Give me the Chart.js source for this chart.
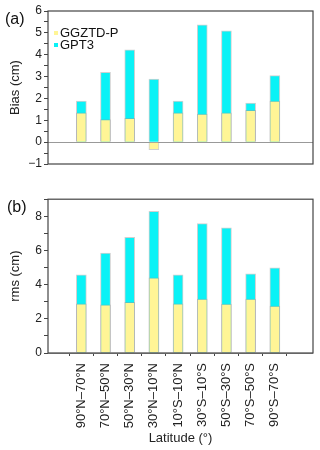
<!DOCTYPE html>
<html>
<head>
<meta charset="utf-8">
<script src="https://cdn.jsdelivr.net/npm/chart.js@4"></script>
<style>
  html, body { margin: 0; padding: 0; background: #fff; }
  #wrap { position: relative; width: 320px; height: 450px; }
  #wrap canvas { position: absolute; left: 0; }
</style>
</head>
<body>
<div id="wrap">
  <canvas id="biasChart" width="320" height="190" style="top:0"></canvas>
  <canvas id="rmsChart" width="320" height="260" style="top:190px"></canvas>
</div>
<script>
// latitude bands
const bands = ['90°N–70°N', '70°N–50°N', '50°N–30°N', '30°N–10°N', '10°S–10°N',
               '30°S–10°S', '50°S–30°S', '70°S–50°S', '90°S–70°S'];

// panel (a) bias, cm
const biasGGZTD = [1.34, 1.03, 1.09, -0.35, 1.34, 1.28, 1.34, 1.46, 1.88];
const biasGPT3 = [1.88, 3.19, 4.22, 2.89, 1.88, 5.37, 5.09, 1.79, 3.04];

// panel (b) rms, cm
const rmsGGZTD = [2.88, 2.82, 2.96, 4.40, 2.88, 3.15, 2.86, 3.15, 2.74];
const rmsGPT3 = [4.57, 5.84, 6.77, 8.29, 4.57, 7.57, 7.33, 4.63, 4.98];

const yellow = 'rgb(255,245,150)';
const cyan = 'rgb(10,242,246)';
const axisColor = '#444';
const font = 'Liberation Sans, Arial, sans-serif';

Chart.defaults.font.family = font;
Chart.defaults.color = '#222';

const toPoints = arr => arr.map((v, i) => ({ x: i + 1, y: v }));

function makeDatasets(ggztd, gpt3) {
  // first dataset is painted last, so GGZTD-P sits in front of GPT3
  return [
    { label: 'GGZTD-P', data: toPoints(ggztd), backgroundColor: yellow },
    { label: 'GPT3', data: toPoints(gpt3), backgroundColor: cyan }
  ].map(d => Object.assign(d, {
    grouped: false,
    barThickness: 10,
    borderWidth: 1,
    borderColor: 'rgba(150,150,150,0.45)'
  }));
}

// frame, panel letter and small legend
const decor = {
  id: 'decor',
  afterDraw(chart, args, opts) {
    const { ctx, chartArea: a } = chart;
    ctx.save();
    ctx.strokeStyle = axisColor;
    ctx.lineWidth = 1.2;
    ctx.strokeRect(a.left, a.top, a.right - a.left, a.bottom - a.top);

    ctx.fillStyle = '#111';
    ctx.font = '16px ' + font;
    ctx.textBaseline = 'middle';
    ctx.textAlign = 'left';
    ctx.fillText(opts.letter, opts.lx, opts.ly);

    if (opts.legend) {
      ctx.font = '13px ' + font;
      chart.data.datasets.forEach((ds, i) => {
        const y = 33 + i * 12;
        ctx.fillStyle = ds.backgroundColor;
        ctx.fillRect(54, y - 2, 4, 4);
        ctx.fillStyle = '#111';
        ctx.fillText(ds.label, 60, y);
      });
    }
    ctx.restore();
  }
};

function xScale(showLabels, height) {
  return {
    type: 'linear',
    min: 0.23,
    max: 9.97,
    afterBuildTicks: s => { s.ticks = bands.map((b, i) => ({ value: i + 1 })); },
    afterFit: s => { s.height = height; },
    border: { display: false },
    grid: {
      display: showLabels,
      drawOnChartArea: false,
      tickLength: 3,
      color: axisColor,
      tickColor: axisColor
    },
    ticks: {
      display: showLabels,
      autoSkip: false,
      minRotation: 90,
      maxRotation: 90,
      padding: 7,
      font: { size: 13 },
      color: '#222',
      callback: v => bands[v - 1]
    },
    title: {
      display: showLabels,
      text: 'Latitude (°)',
      font: { size: 13 },
      color: '#222',
      padding: { top: 0, bottom: 4 }
    }
  };
}

function yScale(min, max, step, labelEvery, title) {
  return {
    min: min,
    max: max,
    afterFit: s => { s.width = 48; },
    border: { display: false },
    grid: {
      color: c => (c.tick && c.tick.value === 0 ? '#999' : 'transparent'),
      tickColor: axisColor,
      tickLength: 4,
      lineWidth: 1
    },
    ticks: {
      stepSize: step,
      autoSkip: false,
      padding: 2,
      font: { size: 12 },
      color: '#222',
      callback: v => (Math.abs(v / labelEvery - Math.round(v / labelEvery)) < 1e-6
        ? String(v).replace('-', '\u2212') : '')
    },
    title: {
      display: true,
      text: title,
      font: { size: 13 },
      color: '#222',
      padding: { top: 8, bottom: 0 }
    }
  };
}

new Chart(document.getElementById('biasChart'), {
  type: 'bar',
  data: { datasets: makeDatasets(biasGGZTD, biasGPT3) },
  options: {
    responsive: false,
    animation: false,
    layout: { padding: { top: 11, right: 7, left: 0, bottom: 0 } },
    plugins: {
      legend: { display: false },
      tooltip: { enabled: false },
      decor: { letter: '(a)', lx: 5, ly: 20, legend: true }
    },
    scales: {
      x: xScale(false, 26),
      y: yScale(-1, 6, 0.5, 1, 'Bias (cm)')
    }
  },
  plugins: [decor]
});

new Chart(document.getElementById('rmsChart'), {
  type: 'bar',
  data: { datasets: makeDatasets(rmsGGZTD, rmsGPT3) },
  options: {
    responsive: false,
    animation: false,
    layout: { padding: { top: 7, right: 7, left: 0, bottom: 0 } },
    plugins: {
      legend: { display: false },
      tooltip: { enabled: false },
      decor: { letter: '(b)', lx: 7, ly: 18, legend: false }
    },
    scales: {
      x: xScale(true, 97),
      y: yScale(0, 9, 1, 2, 'rms (cm)')
    }
  },
  plugins: [decor]
});
</script>
</body>
</html>
